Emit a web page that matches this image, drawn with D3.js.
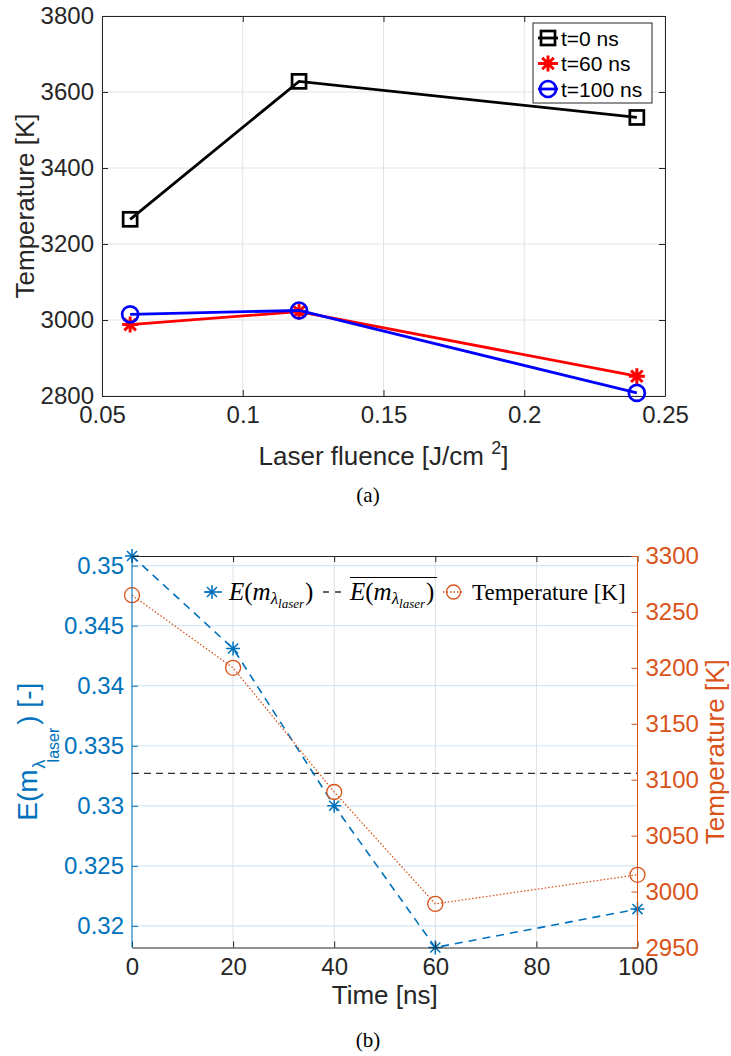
<!DOCTYPE html>
<html>
<head>
<meta charset="utf-8">
<script src="https://cdn.jsdelivr.net/npm/d3@7/dist/d3.min.js"></script>
<style>
  html, body { margin: 0; padding: 0; background: #fff; }
  svg { display: block; }
</style>
</head>
<body>
<svg id="chart" width="731" height="1056"></svg>
<script>
// ---------- DATA: panel (a) ----------
const fluence = [0.06, 0.12, 0.24];
const temp0ns = [3265, 3628, 3533];
const temp60ns = [2988, 3022, 2852];
const temp100ns = [3015, 3025, 2808];
const fluenceTicks = [0.05, 0.1, 0.15, 0.2, 0.25];
const fluenceTickLabels = ["0.05", "0.1", "0.15", "0.2", "0.25"];
const tempTicksA = [2800, 3000, 3200, 3400, 3600, 3800];
const seriesNamesA = ["t=0 ns", "t=60 ns", "t=100 ns"];

// ---------- DATA: panel (b) ----------
const timeNs = [0, 20, 40, 60, 100];
const emissivity = [0.3508, 0.3431, 0.3300, 0.3182, 0.3214];
const tempTime = [3265, 3200, 3089, 2989, 3015];
const timeTicks = [0, 20, 40, 60, 80, 100];
const emissTicks = [0.32, 0.325, 0.33, 0.335, 0.34, 0.345, 0.35];
const emissTickLabels = ["0.32", "0.325", "0.33", "0.335", "0.34", "0.345", "0.35"];
const tempTicksB = [2950, 3000, 3050, 3100, 3150, 3200, 3250, 3300];

// ---------- helpers ----------
const svg = d3.select("#chart");
svg.append("rect").attr("width", 731).attr("height", 1056).attr("fill", "#fff");
const SANS = "'Liberation Sans', Arial, Helvetica, sans-serif";
const SERIF = "'Liberation Serif', 'Times New Roman', serif";
const AX = "#262626";
const BLUE = "#0072BD", ORANGE = "#D95319";

function starPath(s) {
  const d = s / 2, e = d * 0.72;
  return `M${-d},0L${d},0M0,${-d}L0,${d}M${-e},${-e}L${e},${e}M${-e},${e}L${e},${-e}`;
}
function styleAxis(g, color, size) {
  g.selectAll(".domain").attr("stroke", color).attr("stroke-width", 1);
  g.selectAll(".tick line").attr("stroke", color).attr("stroke-width", 1);
  g.selectAll(".tick text").attr("fill", color).attr("font-family", SANS).attr("font-size", size);
}

// ================= PANEL (a) =================
const A = { l: 102, r: 665, t: 16, b: 396 };
const xA = d3.scaleLinear().domain([0.05, 0.25]).range([A.l, A.r]);
const yA = d3.scaleLinear().domain([2800, 3800]).range([A.b, A.t]);
const gA = svg.append("g");

// grid
gA.append("g").selectAll("line").data(fluenceTicks).join("line")
  .attr("x1", d => xA(d)).attr("x2", d => xA(d)).attr("y1", A.t).attr("y2", A.b)
  .attr("stroke", "#e3e3e3").attr("stroke-width", 1);
gA.append("g").selectAll("line").data(tempTicksA).join("line")
  .attr("y1", d => yA(d)).attr("y2", d => yA(d)).attr("x1", A.l).attr("x2", A.r)
  .attr("stroke", "#e3e3e3").attr("stroke-width", 1);

// axes (ticks inward)
const fmtA = d => fluenceTickLabels[fluenceTicks.indexOf(d)];
const axBA = gA.append("g").attr("transform", `translate(0,${A.b})`)
  .call(d3.axisBottom(xA).tickValues(fluenceTicks).tickFormat(fmtA).tickSizeInner(-6).tickSizeOuter(0).tickPadding(10));
styleAxis(axBA, AX, 24);
const axTA = gA.append("g").attr("transform", `translate(0,${A.t})`)
  .call(d3.axisTop(xA).tickValues(fluenceTicks).tickFormat("").tickSizeInner(-6).tickSizeOuter(0));
styleAxis(axTA, AX, 24);
const axLA = gA.append("g").attr("transform", `translate(${A.l},0)`)
  .call(d3.axisLeft(yA).tickValues(tempTicksA).tickFormat(d3.format("d")).tickSizeInner(-6).tickSizeOuter(0).tickPadding(8));
styleAxis(axLA, AX, 24);
const axRA = gA.append("g").attr("transform", `translate(${A.r},0)`)
  .call(d3.axisRight(yA).tickValues(tempTicksA).tickFormat("").tickSizeInner(-6).tickSizeOuter(0));
styleAxis(axRA, AX, 24);

// series
const seriesA = [
  { name: seriesNamesA[0], vals: temp0ns, color: "#000000", marker: "square" },
  { name: seriesNamesA[1], vals: temp60ns, color: "#ff0000", marker: "star" },
  { name: seriesNamesA[2], vals: temp100ns, color: "#0000ff", marker: "circle" }
];
const lineA = d3.line().x(d => xA(d[0])).y(d => yA(d[1]));
function drawMarker(g, type, color, x, y, scale) {
  scale = scale || 1;
  if (type === "square") {
    const s = 14 * scale;
    g.append("rect").attr("x", x - s / 2).attr("y", y - s / 2).attr("width", s).attr("height", s)
      .attr("fill", "none").attr("stroke", color).attr("stroke-width", 2.7);
  } else if (type === "star") {
    g.append("path").attr("d", starPath(16 * scale)).attr("transform", `translate(${x},${y})`)
      .attr("fill", "none").attr("stroke", color).attr("stroke-width", 3);
  } else {
    g.append("circle").attr("cx", x).attr("cy", y).attr("r", 8 * scale)
      .attr("fill", "none").attr("stroke", color).attr("stroke-width", 2.7);
  }
}
seriesA.forEach(s => {
  const pts = fluence.map((f, i) => [f, s.vals[i]]);
  gA.append("path").attr("d", lineA(pts)).attr("fill", "none").attr("stroke", s.color).attr("stroke-width", 2.8);
  pts.forEach(p => drawMarker(gA, s.marker, s.color, xA(p[0]), yA(p[1])));
});

// legend (a)
const legA = gA.append("g");
legA.append("rect").attr("x", 533).attr("y", 23).attr("width", 119).attr("height", 80)
  .attr("fill", "#fff").attr("stroke", AX).attr("stroke-width", 1);
seriesA.forEach((s, i) => {
  const cy = 38 + i * 25.5;
  legA.append("line").attr("x1", 538).attr("x2", 558).attr("y1", cy).attr("y2", cy)
    .attr("stroke", s.color).attr("stroke-width", 2.8);
  drawMarker(legA, s.marker, s.color, 548, cy, 1);
  legA.append("text").attr("x", 561).attr("y", cy + 7.5).attr("font-family", SANS).attr("font-size", 21)
    .attr("fill", "#000").text(s.name);
});

// labels (a)
svg.append("text").attr("x", (A.l + A.r) / 2).attr("y", 465).attr("text-anchor", "middle")
  .attr("font-family", SANS).attr("font-size", 26).attr("fill", AX)
  .call(t => {
    t.append("tspan").text("Laser fluence [J/cm ");
    t.append("tspan").attr("font-size", 18).attr("dy", -11).text("2");
    t.append("tspan").attr("dy", 11).text("]");
  });
svg.append("text").attr("transform", `translate(34,${(A.t + A.b) / 2}) rotate(-90)`)
  .attr("text-anchor", "middle").attr("font-family", SANS).attr("font-size", 26).attr("fill", AX)
  .text("Temperature [K]");
svg.append("text").attr("x", 368).attr("y", 502).attr("text-anchor", "middle")
  .attr("font-family", SERIF).attr("font-size", 21).attr("fill", "#000").text("(a)");

// ================= PANEL (b) =================
const B = { l: 132, r: 637.5, t: 556, b: 947.5 };
const xB = d3.scaleLinear().domain([0, 100]).range([B.l, B.r]);
const yBL = d3.scaleLinear().domain([d3.min(emissivity), d3.max(emissivity)]).range([B.b, B.t]);
const yBR = d3.scaleLinear().domain([2950, 3300]).range([B.b, B.t]);
const gB = svg.append("g");

// grid
gB.append("g").selectAll("line").data(timeTicks).join("line")
  .attr("x1", d => xB(d)).attr("x2", d => xB(d)).attr("y1", B.t).attr("y2", B.b)
  .attr("stroke", "#dedede").attr("stroke-width", 1);
gB.append("g").selectAll("line").data(emissTicks).join("line")
  .attr("y1", d => yBL(d)).attr("y2", d => yBL(d)).attr("x1", B.l).attr("x2", B.r)
  .attr("stroke", "#d6e7f3").attr("stroke-width", 1.2);

// mean line
const emissMean = d3.mean(emissivity);
gB.append("line").attr("x1", xB(0)).attr("x2", xB(100)).attr("y1", yBL(emissMean)).attr("y2", yBL(emissMean))
  .attr("stroke", "#333").attr("stroke-width", 1.3).attr("stroke-dasharray", "7,5");

// emissivity series
const lineE = d3.line().x((d, i) => xB(timeNs[i])).y(d => yBL(d));
gB.append("path").attr("d", lineE(emissivity)).attr("fill", "none").attr("stroke", BLUE)
  .attr("stroke-width", 1.6).attr("stroke-dasharray", "8,6");
emissivity.forEach((v, i) => {
  gB.append("path").attr("d", starPath(14)).attr("transform", `translate(${xB(timeNs[i])},${yBL(v)})`)
    .attr("fill", "none").attr("stroke", BLUE).attr("stroke-width", 1.5);
});

// temperature series
const lineT = d3.line().x((d, i) => xB(timeNs[i])).y(d => yBR(d));
gB.append("path").attr("d", lineT(tempTime)).attr("fill", "none").attr("stroke", ORANGE)
  .attr("stroke-width", 1.3).attr("stroke-dasharray", "1.5,2");
tempTime.forEach((v, i) => {
  gB.append("circle").attr("cx", xB(timeNs[i])).attr("cy", yBR(v)).attr("r", 7.5)
    .attr("fill", "none").attr("stroke", ORANGE).attr("stroke-width", 1.3);
});

// axes (b)
const axBB = gB.append("g").attr("transform", `translate(0,${B.b})`)
  .call(d3.axisBottom(xB).tickValues(timeTicks).tickFormat(d3.format("d")).tickSizeInner(-6).tickSizeOuter(0).tickPadding(10));
styleAxis(axBB, AX, 24);
const axTB = gB.append("g").attr("transform", `translate(0,${B.t})`)
  .call(d3.axisTop(xB).tickValues(timeTicks).tickFormat("").tickSizeInner(-6).tickSizeOuter(0));
styleAxis(axTB, AX, 24);
const axLB = gB.append("g").attr("transform", `translate(${B.l},0)`)
  .call(d3.axisLeft(yBL).tickValues(emissTicks).tickFormat(d => emissTickLabels[emissTicks.indexOf(d)])
    .tickSizeInner(-6).tickSizeOuter(0).tickPadding(8));
styleAxis(axLB, BLUE, 24);
const axRB = gB.append("g").attr("transform", `translate(${B.r},0)`)
  .call(d3.axisRight(yBR).tickValues(tempTicksB).tickFormat(d3.format("d")).tickSizeInner(-6).tickSizeOuter(0).tickPadding(8));
styleAxis(axRB, ORANGE, 24);
axLB.select(".domain").attr("d", `M0,${B.t}V${B.b}`);
axRB.select(".domain").attr("d", `M0,${B.t}V${B.b}`);

// legend (b)
const legB = gB.append("g");
const ly = 592;
legB.append("line").attr("x1", 202).attr("x2", 222).attr("y1", ly).attr("y2", ly)
  .attr("stroke", BLUE).attr("stroke-width", 1.6).attr("stroke-dasharray", "8,6").attr("stroke-dashoffset", -2);
legB.append("path").attr("d", starPath(14)).attr("transform", `translate(212,${ly})`)
  .attr("fill", "none").attr("stroke", BLUE).attr("stroke-width", 1.5);
function mathE(t) {
  t.append("tspan").attr("font-style", "italic").text("E");
  t.append("tspan").text("(");
  t.append("tspan").attr("font-style", "italic").text("m");
  t.append("tspan").attr("font-style", "italic").attr("font-size", 17).attr("dy", 4).text("λ");
  t.append("tspan").attr("font-style", "italic").attr("font-size", 13).attr("dy", 4).text("laser");
  t.append("tspan").attr("dy", -8).attr("dx", 1).text(")");
}
legB.append("text").attr("x", 229).attr("y", ly + 8).attr("font-family", SERIF).attr("font-size", 25)
  .attr("fill", "#000").call(mathE);
legB.append("line").attr("x1", 323).attr("x2", 341).attr("y1", ly).attr("y2", ly)
  .attr("stroke", "#333").attr("stroke-width", 1.5).attr("stroke-dasharray", "6,6");
legB.append("text").attr("x", 350).attr("y", ly + 8).attr("font-family", SERIF).attr("font-size", 25)
  .attr("fill", "#000").call(mathE);
legB.append("line").attr("x1", 350).attr("x2", 437).attr("y1", 577.5).attr("y2", 577.5)
  .attr("stroke", "#000").attr("stroke-width", 1);
legB.append("line").attr("x1", 443).attr("x2", 464).attr("y1", ly).attr("y2", ly)
  .attr("stroke", ORANGE).attr("stroke-width", 1.3).attr("stroke-dasharray", "1.5,2");
legB.append("circle").attr("cx", 453.5).attr("cy", ly).attr("r", 7)
  .attr("fill", "none").attr("stroke", ORANGE).attr("stroke-width", 1.3);
legB.append("text").attr("x", 472).attr("y", ly + 8).attr("font-family", SERIF).attr("font-size", 23)
  .attr("fill", "#000").text("Temperature [K]");

// labels (b)
svg.append("text").attr("x", (B.l + B.r) / 2).attr("y", 1004).attr("text-anchor", "middle")
  .attr("font-family", SANS).attr("font-size", 26).attr("fill", AX).text("Time [ns]");
svg.append("text").attr("transform", `translate(37,${(B.t + B.b) / 2}) rotate(-90)`)
  .attr("text-anchor", "middle").attr("font-family", SANS).attr("font-size", 28).attr("fill", BLUE)
  .call(t => {
    t.append("tspan").text("E(m");
    t.append("tspan").attr("font-size", 18).attr("dy", 8).attr("dx", 1).text("λ");
    t.append("tspan").attr("font-size", 16).attr("dy", 14).attr("dx", -3).text("laser");
    t.append("tspan").attr("dy", -22).attr("dx", 3).text(") [-]");
  });
svg.append("text").attr("transform", `translate(724,${(B.t + B.b) / 2}) rotate(-90)`)
  .attr("text-anchor", "middle").attr("font-family", SANS).attr("font-size", 26).attr("fill", ORANGE)
  .text("Temperature [K]");
svg.append("text").attr("x", 368).attr("y", 1047).attr("text-anchor", "middle")
  .attr("font-family", SERIF).attr("font-size", 21).attr("fill", "#000").text("(b)");
</script>
</body>
</html>
